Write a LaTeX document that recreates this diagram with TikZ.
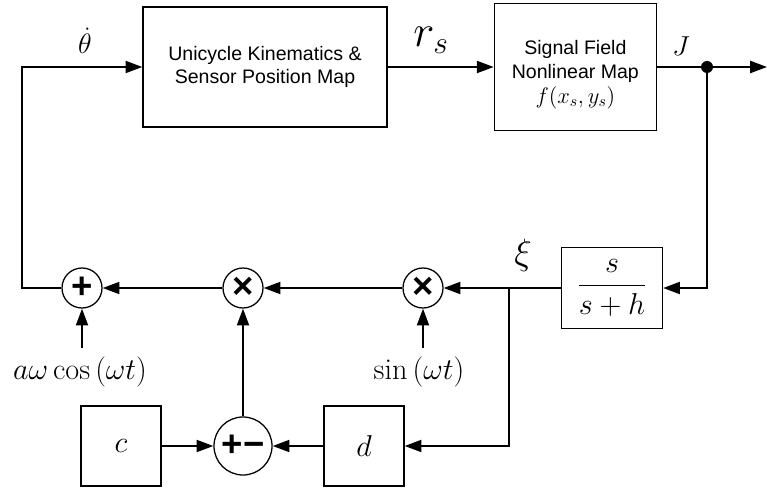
\RequirePackage{fix-cm}
\documentclass[tikz,border=0pt]{standalone}
\usepackage{amsmath}
\usepackage{fontspec}
\newfontfamily\helv{Liberation Sans}
\usetikzlibrary{arrows.meta,positioning}

\begin{document}
\begin{tikzpicture}[
  x=0.025cm, y=-0.025cm,
  font=\helv\fontsize{13.9pt}{16.6pt}\selectfont,
  box/.style={draw,line width=0.9pt,align=center,inner sep=0pt},
  junc/.style={draw,circle,line width=0.9pt,minimum size=1cm,inner sep=0pt,font=\helv\bfseries\fontsize{26pt}{26pt}\selectfont},
  arr/.style={-{Triangle[length=0.42cm,width=0.3cm]},line width=1.4pt},
  wire/.style={line width=1.4pt},
  mlbl/.style={font=\fontsize{21.5pt}{25pt}\selectfont,inner sep=0pt}
]
\useasboundingbox (0,0) rectangle (767,491);

% forward path
\node[box,minimum width=6.1cm,minimum height=3cm] (kin) at (265,67) {Unicycle Kinematics \&\\Sensor Position Map};
\node[box,minimum width=4.05cm,minimum height=3.175cm,right=2.65cm of kin] (field) {\rule{0pt}{21pt}Signal Field\\[0.8pt]Nonlinear Map\\[1pt]{\fontsize{16pt}{19pt}\selectfont$f(x_s,y_s)$}};
\node[circle,fill,inner sep=0pt,minimum size=0.3cm] (jdot) at (707,67) {};
\coordinate (out) at (767,67);

% feedback path
\node[box,mlbl,minimum width=2.525cm,minimum height=2.025cm] (filt) at (612,288) {$\dfrac{s}{s+h}$};
\node[junc] (mult1) at (423,288) {×};
\node[junc] (mult2) at (243,288) {×};
\node[junc] (sum) at (82,288) {+};
\node[junc,minimum size=1.45cm] (diff) at (243,446) {+−};
\node[box,mlbl,minimum size=2cm] (cblk) at (121,446) {$c$};
\node[box,mlbl,minimum size=2cm] (dblk) at (364,446) {$d$};
\coordinate (br) at (509,288);
\coordinate (lft) at (22,67);

% labels
\node[mlbl,font=\fontsize{20pt}{24pt}\selectfont] (thlbl) at (85,41) {$\dot\theta$};
\node[mlbl,font=\fontsize{32pt}{36pt}\selectfont] (rlbl) at (431,40) {$r_s$};
\node[mlbl,font=\fontsize{19.5pt}{23pt}\selectfont] (jlbl) at (681,46) {$J$};
\node[mlbl,font=\fontsize{26pt}{30pt}\selectfont] (xilbl) at (523,255) {$\xi$};
\node[mlbl,anchor=north] (coslbl) at (80,357) {$a\omega\cos\left(\omega t\right)$};
\node[mlbl,anchor=north] (sinlbl) at (419,357) {$\sin\left(\omega t\right)$};

\draw[arr] (kin) -- (field);
\draw[wire] (field) -- (jdot);
\draw[arr] (jdot) -- (out);
\draw[arr] (jdot) |- (filt);
\draw[arr] (filt) -- (mult1);
\draw[arr] (br) |- (dblk);
\draw[arr] (mult1) -- (mult2);
\draw[arr] (mult2) -- (sum);
\draw[arr] (sum) -| (lft) -- (kin);
\draw[arr,shorten <=0.22cm] (coslbl.north -| sum) -- (sum);
\draw[arr,shorten <=0.22cm] (sinlbl.north -| mult1) -- (mult1);
\draw[arr] (cblk) -- (diff);
\draw[arr] (dblk) -- (diff);
\draw[arr] (diff) -- (mult2);
\end{tikzpicture}
\end{document}
